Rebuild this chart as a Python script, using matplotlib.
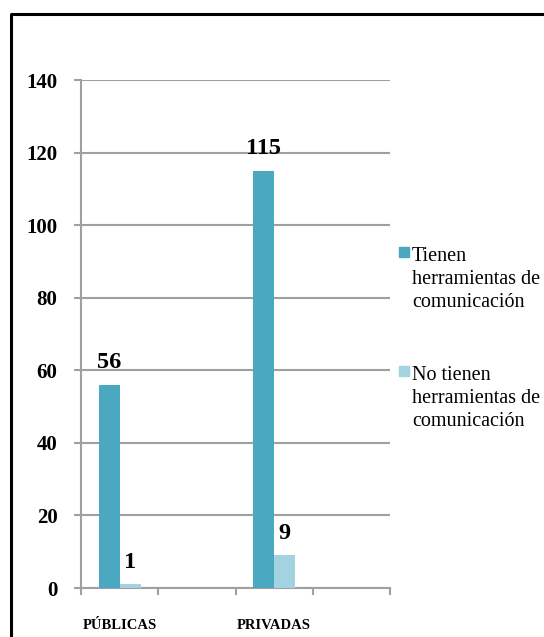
import matplotlib.pyplot as plt
from matplotlib.lines import Line2D
from matplotlib.patches import Rectangle

categories = ['PÚBLICAS', '', 'PRIVADAS', '']
tienen = [56, None, 115, None]
no_tienen = [1, None, 9, None]
series_names = ['Tienen\nherramientas de\ncomunicación',
                'No tienen\nherramientas de\ncomunicación']
yticks = [0, 20, 40, 60, 80, 100, 120, 140]

teal = '#4BA8C1'
light = '#A3D2E0'
grid_gray = '#A0A0A0'
W, H = 544, 637

plt.rcParams['font.family'] = ['Liberation Serif', 'DejaVu Serif']

fig = plt.figure(figsize=(W / 100, H / 100), dpi=100)
ax = fig.add_axes([81 / W, 1 - 588 / H, (390 - 81) / W, (588 - 80) / H])

bw = 0.273
for i, cat in enumerate(categories):
    if tienen[i] is not None:
        ax.bar(i - bw / 2, tienen[i], bw, color=teal, zorder=3)
        ax.annotate(str(tienen[i]), (i - bw / 2, tienen[i]), xytext=(0, 16),
                    textcoords='offset points', ha='center', va='center',
                    fontsize=17.5, fontweight='bold')
    if no_tienen[i] is not None:
        ax.bar(i + bw / 2, no_tienen[i], bw, color=light, zorder=3)
        ax.annotate(str(no_tienen[i]), (i + bw / 2, no_tienen[i]), xytext=(0, 16),
                    textcoords='offset points', ha='center', va='center',
                    fontsize=17.5, fontweight='bold')

ax.set_xlim(-0.5, len(categories) - 0.5)
ax.set_ylim(0, 140)
ax.set_yticks(yticks)
ax.set_yticklabels([str(v) for v in yticks], fontsize=15, fontweight='bold')
ax.set_xticks([i for i in range(len(categories))])
ax.set_xticklabels(categories, fontsize=10.5, fontweight='bold')
ax.set_xticks([i - 0.5 for i in range(len(categories) + 1)], minor=True)
ax.tick_params(axis='x', which='major', length=0, pad=22)
ax.tick_params(axis='x', which='minor', length=5, width=1.5, color=grid_gray)
ax.tick_params(axis='y', length=5, width=1.5, color=grid_gray, pad=12)
ax.yaxis.grid(True, color=grid_gray, linewidth=1.5, zorder=0)
ax.set_axisbelow(True)
for s in ['top', 'right']:
    ax.spines[s].set_visible(False)
for s in ['left', 'bottom']:
    ax.spines[s].set_color(grid_gray)
    ax.spines[s].set_linewidth(1.5)

# legend drawn by hand so the square sits on the first text line
for name, col, ytop in zip(series_names, [teal, light], [247, 366]):
    fig.patches.append(Rectangle((399 / W, 1 - (ytop + 9.5) / H), 9.5 / W, 9.5 / H,
                                 transform=fig.transFigure, color=col))
    fig.text(412 / W, 1 - ytop / H, name, fontsize=14.5, va='top', ha='left',
             linespacing=1.27)

# outer frame (left and top edges visible)
fig.add_artist(Line2D([10.7 / W, 10.7 / W, 1.01], [-0.01, 1 - 14 / H, 1 - 14 / H],
                      transform=fig.transFigure, color='black', linewidth=2.2))

fig.savefig('out.png', dpi=100)
